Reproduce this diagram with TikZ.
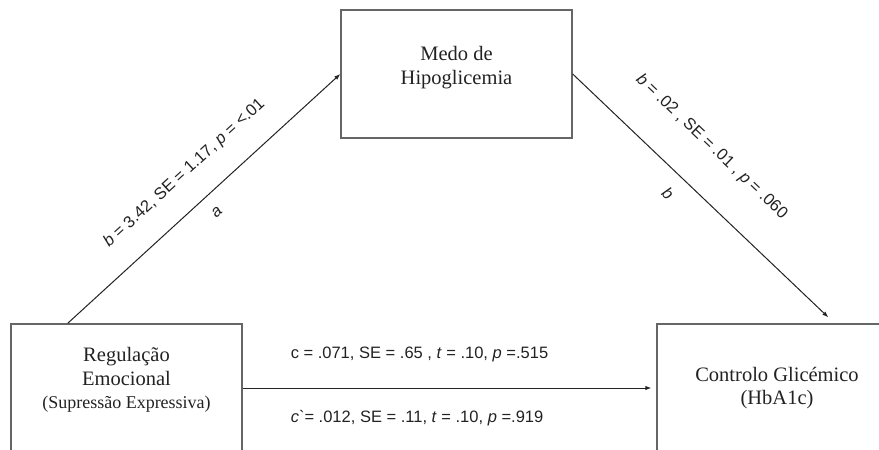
\documentclass[tikz,border=0pt]{standalone}
\usepackage{fontspec}
\setmainfont{Liberation Serif}
\setsansfont{Liberation Sans}
\usetikzlibrary{arrows.meta,positioning,calc}
\definecolor{boxgray}{HTML}{666666}
\definecolor{dark}{HTML}{222222}
\tikzset{
  box/.style={draw=boxgray, line width=1.4pt, inner sep=0pt, minimum height=128pt},
  boxtext/.style={align=center, text=dark, font=\fontsize{20.5}{23.5}\selectfont, inner sep=0pt},
  stat/.style={text=dark, font=\sffamily\fontsize{16.5}{19}\selectfont, inner sep=0pt},
  arrow/.style={-{Latex[length=6pt,width=4.5pt]}, line width=1pt, draw=dark}
}
\begin{document}
\begin{tikzpicture}[x=1pt, y=-1pt]
  \useasboundingbox (0,0) rectangle (879,450);
  % boxes
  \node[box, minimum width=231pt] (reg) at (126.5,388) {};
  \node[box, minimum width=231pt] (medo) at (456.5,74) {};
  \node[box, boxtext, minimum width=240pt] (ctrl) at (777,388) {Controlo Glicémico\\(HbA1c)};
  \node[boxtext, yshift=8pt] (regtxt) at (reg.center) {Regulação\\Emocional\\{\fontsize{18}{20}\selectfont(Supressão Expressiva)}};
  \node[boxtext, yshift=6.5pt] (medotxt) at (medo.center) {Medo de\\Hipoglicemia};
  % arrow ends
  \coordinate (astart) at ($(reg.north west)!0.247!(reg.north east)$);
  \coordinate (bend) at ($(ctrl.north west)+(172,-6)$);
  % paths
  \draw[arrow] (astart) -- (medo.west)
    node[stat, pos=0.507, sloped, yshift=32pt] (alab) {\textit{b} = 3.42, SE = 1.17, \textit{p} = <.01}
    node[stat, pos=0.5, sloped, yshift=-19pt] (aname) {\textit{a}};
  \draw[arrow] (medo.east) -- (bend)
    node[stat, pos=0.427, sloped, yshift=43pt] (blab) {\textit{b} = .02 , SE = .01 , \textit{p} = .060}
    node[stat, pos=0.43, sloped, yshift=-21pt] (bname) {\textit{b}};
  \draw[arrow, shorten >=5pt] (reg.east) -- (ctrl.west)
    node[stat, pos=0.115, anchor=west, yshift=34pt] (clab) {c = .071, SE = .65 , \textit{t} = .10, \textit{p} =.515}
    node[stat, pos=0.115, anchor=west, yshift=-30pt] (cplab) {\textit{c}\textasciigrave= .012, SE = .11, \textit{t} = .10, \textit{p} =.919};
\end{tikzpicture}
\end{document}
